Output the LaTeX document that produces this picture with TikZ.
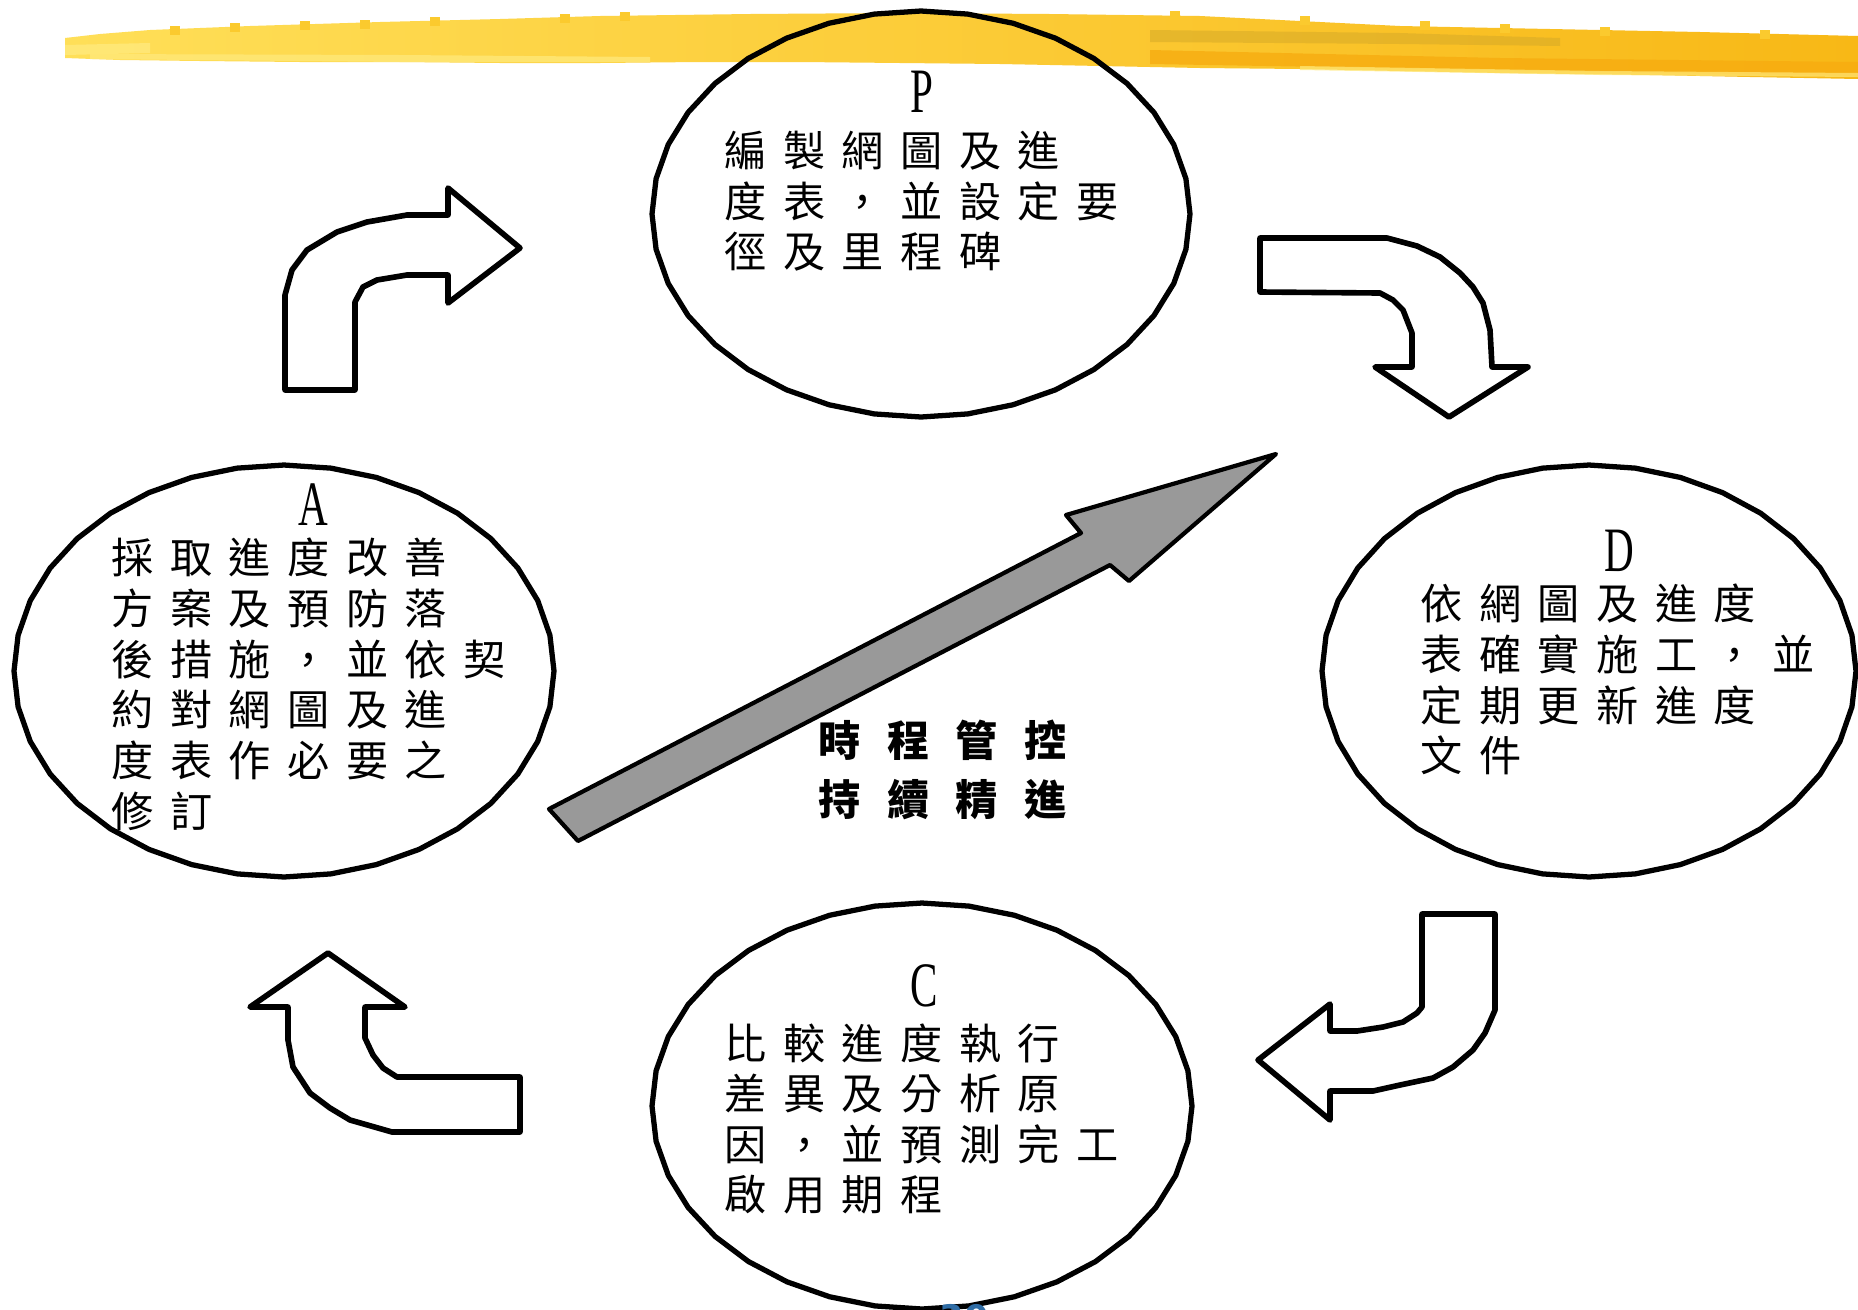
\documentclass[tikz,border=0pt]{standalone}
\usepackage{fontspec}
\usepackage{graphicx}
\setmainfont{Liberation Serif}
\newfontfamily\cjk{Noto Sans CJK TC}
\newfontfamily\numfont{DejaVu Sans}

% set each character of a line in a box of fixed pitch
\newlength\cjkpitch
\def\cjkspread#1{\cjkspreadloop#1\relax}
\def\cjkspreadloop#1{\ifx\relax#1\else\makebox[\cjkpitch][l]{#1}\expandafter\cjkspreadloop\fi}

\definecolor{bandpale}{HTML}{FFE878}
\definecolor{bandleft}{HTML}{FFDF58}
\definecolor{bandmid}{HTML}{FDD238}
\definecolor{bandgold}{HTML}{F8B816}
\definecolor{bandolive}{HTML}{D6AA28}
\definecolor{bandorange}{HTML}{F7AC10}
\definecolor{arrowgray}{HTML}{999999}
\definecolor{numblue}{HTML}{2F6DA6}

\tikzset{
  phase/.style={draw=black, line width=3pt, line join=round},
  bendarrow/.style={draw=black, fill=white, line width=3.2pt, line join=round},
  risearrow/.style={draw=black, fill=arrowgray, line width=2.4pt, line join=round},
  letter/.style={inner sep=0pt, font=\fontsize{36}{36}\selectfont},
  block/.style={anchor=north west, inner sep=0pt, align=left,
    font={\cjk\fontsize{24}{28.8}\selectfont\setlength\cjkpitch{33.4pt}}},
  motto/.style={anchor=north west, inner sep=0pt, align=left,
    font={\cjk\bfseries\fontsize{24}{33.6}\selectfont\setlength\cjkpitch{39.1pt}}},
}

% slightly faceted ellipse: centre x, centre y, x radius, y radius
\newcommand\facetellipse[4]{%
  \draw[phase] plot[samples=37, domain=0:360, variable=\t]
    ({#1+#3*cos(\t)}, {#2+#4*sin(\t)}) -- cycle;}

\begin{document}
\begin{tikzpicture}[x=0.02cm, y=-0.02cm]
  \useasboundingbox (0,0) rectangle (1858,1309);
  \clip (0,0) rectangle (1858,1309);
  \fill[white] (0,0) rectangle (1858,1309);

  % yellow brush band across the top
  \shade[left color=bandleft, middle color=bandmid, right color=bandgold]
    (65,38) -- (100,34) -- (150,30) -- (250,26) -- (380,22) -- (500,19) -- (600,16)
    -- (750,14) -- (900,13) -- (1050,14) -- (1200,16) -- (1300,21) -- (1400,26)
    -- (1550,29) -- (1700,32) -- (1858,36)
    -- (1858,79) -- (1750,77) -- (1650,75) -- (1500,73) -- (1400,71) -- (1300,69)
    -- (1200,68) -- (1100,66) -- (1000,64) -- (900,63) -- (800,62) -- (700,62)
    -- (600,63) -- (500,63) -- (400,62) -- (300,62) -- (200,61) -- (120,60) -- (65,58) -- cycle;
  \fill[bandpale, opacity=0.9] (65,45) -- (150,43) -- (150,53) -- (65,55) -- cycle;
  \fill[bandpale, opacity=0.8] (90,54) -- (400,55) -- (650,57) -- (650,62) -- (400,62) -- (90,59) -- cycle;
  \fill[bandolive, opacity=0.55] (1150,30) -- (1400,33) -- (1560,38) -- (1560,46) -- (1400,44) -- (1150,42) -- cycle;
  \fill[bandorange, opacity=0.8] (1150,50) -- (1500,58) -- (1858,62) -- (1858,76) -- (1500,70) -- (1150,64) -- cycle;
  \fill[bandpale, opacity=0.7] (1300,66) -- (1600,71) -- (1858,73) -- (1858,77) -- (1600,75) -- (1300,70) -- cycle;
  % ragged bristle marks along the top edge
  \foreach \bx/\by in {170/26, 230/23, 300/21, 360/20, 430/17, 560/14, 620/12,
                       1170/11, 1300/16, 1420/21, 1500/24, 1600/27, 1760/30}
    \fill[bandmid!70!bandgold] (\bx,\by) rectangle ++(10,9);

  % the four phase ellipses
  \facetellipse{921}{214}{269}{203}
  \facetellipse{284}{671}{270}{206}
  \facetellipse{1589}{671}{267}{206}
  \facetellipse{922}{1106}{270}{203}

  % phase letters
  \node[letter] (pLetter) at (922,92)  {\scalebox{0.65}[1]{P}};
  \node[letter] (aLetter) at (313,505) {\scalebox{0.65}[1]{A}};
  \node[letter] (dLetter) at (1619,551) {\scalebox{0.65}[1]{D}};
  \node[letter] (cLetter) at (924,986) {\scalebox{0.65}[1]{C}};

  % phase descriptions
  \node[block] (pText) at (724,131) {\cjkspread{編製網圖及進}\\\cjkspread{度表，並設定要}\\\cjkspread{徑及里程碑}};
  \node[block] (aText) at (111,538) {\cjkspread{採取進度改善}\\\cjkspread{方案及預防落}\\\cjkspread{後措施，並依契}\\\cjkspread{約對網圖及進}\\\cjkspread{度表作必要之}\\\cjkspread{修訂}};
  \node[block] (dText) at (1420,584) {\cjkspread{依網圖及進度}\\\cjkspread{表確實施工，並}\\\cjkspread{定期更新進度}\\\cjkspread{文件}};
  \node[block] (cText) at (724,1023) {\cjkspread{比較進度執行}\\\cjkspread{差異及分析原}\\\cjkspread{因，並預測完工}\\\cjkspread{啟用期程}};

  % curved block arrows between the phases
  \draw[bendarrow] (285,390) -- (355,390) -- (355,302) -- (363,287) -- (377,280) -- (407,275)
    -- (448,275) -- (448,303) -- (520,248) -- (448,188) -- (448,215) -- (407,215)
    -- (367,222) -- (337,232) -- (307,250) -- (292,270) -- (285,295) -- cycle;
  \draw[bendarrow] (1260,238) -- (1387,238) -- (1417,246) -- (1440,257) -- (1460,273)
    -- (1473,287) -- (1483,303) -- (1490,330) -- (1492,367) -- (1528,367) -- (1449,417)
    -- (1375,367) -- (1412,367) -- (1412,333) -- (1403,310) -- (1393,300) -- (1380,293)
    -- (1260,292) -- cycle;
  \draw[bendarrow] (1422,914) -- (1495,914) -- (1495,1010) -- (1485,1033) -- (1473,1050)
    -- (1453,1067) -- (1433,1078) -- (1400,1085) -- (1373,1091) -- (1330,1091) -- (1330,1120)
    -- (1258,1060) -- (1330,1004) -- (1330,1031) -- (1357,1031) -- (1383,1027) -- (1403,1022)
    -- (1417,1013) -- (1422,1007) -- cycle;
  \draw[bendarrow] (328,953) -- (405,1007) -- (365,1007) -- (365,1038) -- (373,1055)
    -- (383,1068) -- (397,1077) -- (520,1077) -- (520,1132) -- (392,1132) -- (350,1120)
    -- (330,1108) -- (310,1093) -- (293,1067) -- (288,1040) -- (288,1007) -- (250,1007) -- cycle;

  % rising arrow through the middle
  \draw[risearrow] (549,809) -- (1081,533) -- (1066,515) -- (1276,454) -- (1129,581)
    -- (1110,565) -- (578,841) -- cycle;

  \node[motto] (motto) at (818,720) {\cjkspread{時程管控}\\\cjkspread{持續精進}};

  % page number at the lower edge
  \node[anchor=base, inner sep=0pt, text=numblue, font=\numfont\bfseries\fontsize{20}{20}\selectfont]
    (pageNo) at (964,1330) {30};
\end{tikzpicture}
\end{document}
